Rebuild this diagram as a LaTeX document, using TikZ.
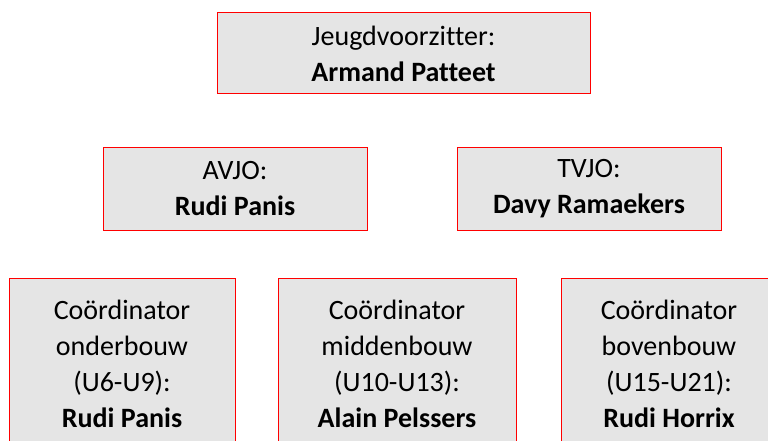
\documentclass[tikz,border=0pt]{standalone}
\usepackage{fontspec}
\setmainfont[Ligatures=NoCommon]{Carlito}
\usepackage{tikz}
\usetikzlibrary{positioning}

\tikzset{
	rolebox/.style={draw=red, line width=1pt, fill=gray!20, align=center,
		font=\fontsize{28}{36}\selectfont, inner sep=0pt},
}

\begin{document}
\begin{tikzpicture}[x=1pt,y=-1pt]
	
	% Page frame
	\clip (0,0) rectangle (768,441);
	\fill[white] (0,0) rectangle (768,441);
	
	% Draw chairman
	\node[rolebox, minimum width=373pt, minimum height=81pt] (chair) at (403.5,53.5) {Jeugdvoorzitter:\\\textbf{Armand Patteet}};
	
	% Draw youth officials
	\node[rolebox, minimum width=264pt, minimum height=83pt] (avjo) at (235,189) {AVJO:\\\textbf{Rudi Panis}};
	\node[rolebox, minimum width=264pt, minimum height=83pt] (tvjo) at (589,189) {TVJO:\\\textbf{Davy Ramaekers}};
	
	% Draw coordinators
	\node[rolebox, minimum width=226pt, minimum height=170pt] (onder) at (122,363.5) {Coördinator\\onderbouw\\(U6-U9):\\\textbf{Rudi Panis}};
	\node[rolebox, minimum width=238pt, minimum height=170pt] (midden) at (397,363.5) {Coördinator\\middenbouw\\(U10-U13):\\\textbf{Alain Pelssers}};
	\node[rolebox, minimum width=216pt, minimum height=170pt] (boven) at (669,363.5) {Coördinator\\bovenbouw\\(U15-U21):\\\textbf{Rudi Horrix}};
	
\end{tikzpicture}
\end{document}
